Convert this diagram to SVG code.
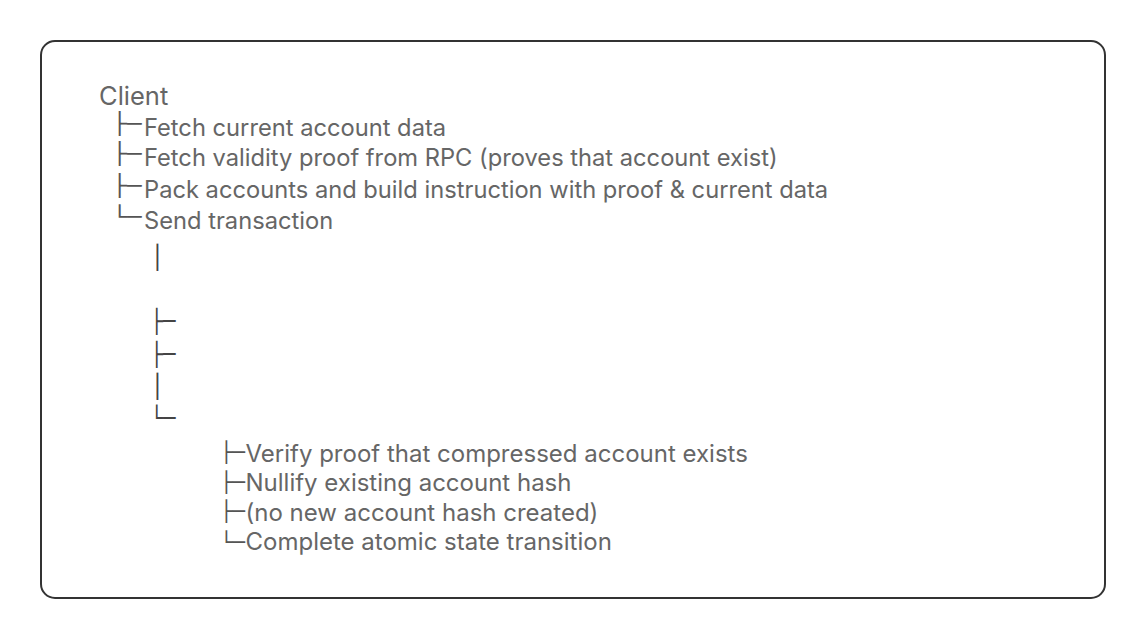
<svg xmlns="http://www.w3.org/2000/svg" width="1146" height="639" viewBox="0 0 1146 639">
<style>
.lbl{font-family:Inter,"Liberation Sans",sans-serif;font-size:23.7px;fill:#666}
.lbl2{font-family:Inter,"Liberation Sans",sans-serif;font-size:24px;fill:#666}
.title{font-family:Inter,"Liberation Sans",sans-serif;font-size:25.5px;fill:#666}
.box{font-family:"DejaVu Sans",sans-serif;font-size:21px;fill:#555}
.box2{font-family:"DejaVu Sans",sans-serif;font-size:23px;fill:#444}
.box3{font-family:"DejaVu Sans",sans-serif;font-size:20px;fill:#555}
</style>
<rect x="41" y="41" width="1064" height="557" rx="14" ry="14" fill="#fff" stroke="#333" stroke-width="2"/>
<g id="client"><text class="title" x="99" y="105">Client</text></g>
<g id="connectors">
<text class="box" x="112.5" y="130.7" textLength="29" lengthAdjust="spacingAndGlyphs">├─</text>
<text class="box" x="112.5" y="161.2" textLength="29" lengthAdjust="spacingAndGlyphs">├─</text>
<text class="box" x="112.5" y="192.7" textLength="29" lengthAdjust="spacingAndGlyphs">├─</text>
<text class="box" x="112.5" y="224.2" textLength="29" lengthAdjust="spacingAndGlyphs">└─</text>
<text class="box2" x="150.5" y="264.5">│</text>
<text class="box2" x="150.5" y="329" textLength="25" lengthAdjust="spacingAndGlyphs">├─</text>
<text class="box2" x="150.5" y="361.5" textLength="25" lengthAdjust="spacingAndGlyphs">├─</text>
<text class="box2" x="150.5" y="393.5">│</text>
<text class="box2" x="150.5" y="426" textLength="25" lengthAdjust="spacingAndGlyphs">└─</text>
<text class="box3" x="220" y="459.1" textLength="25" lengthAdjust="spacingAndGlyphs">├─</text>
<text class="box3" x="220" y="488.8" textLength="25" lengthAdjust="spacingAndGlyphs">├─</text>
<text class="box3" x="220" y="517.8" textLength="25" lengthAdjust="spacingAndGlyphs">├─</text>
<text class="box3" x="220" y="548.8" textLength="25" lengthAdjust="spacingAndGlyphs">└─</text>
</g>
<g id="step-fetch-data"><text class="lbl" x="144" y="135.5">Fetch current account data</text></g>
<g id="step-fetch-proof"><text class="lbl" x="144" y="166">Fetch validity proof from RPC (proves that account exist)</text></g>
<g id="step-pack"><text class="lbl" x="144" y="197.5">Pack accounts and build instruction with proof &amp; current data</text></g>
<g id="step-send"><text class="lbl" x="144" y="229">Send transaction</text></g>
<g id="prog-verify"><text class="lbl2" x="245.5" y="461.5">Verify proof that compressed account exists</text></g>
<g id="prog-nullify"><text class="lbl2" x="245.5" y="491">Nullify existing account hash</text></g>
<g id="prog-nonew"><text class="lbl2" x="245.5" y="520.5">(no new account hash created)</text></g>
<g id="prog-complete"><text class="lbl2" x="245.5" y="550">Complete atomic state transition</text></g>
</svg>
